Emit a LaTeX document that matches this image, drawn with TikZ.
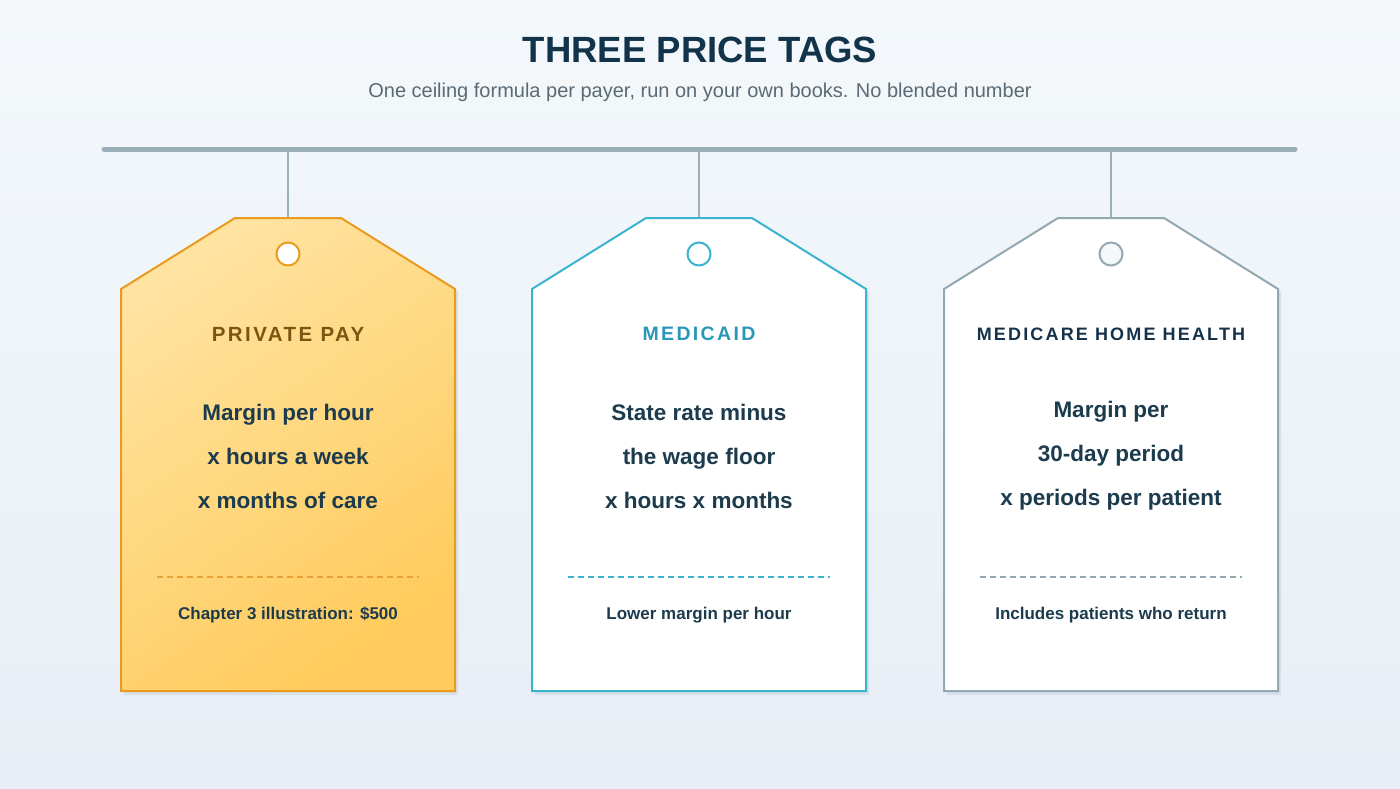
\documentclass[tikz,border=0pt]{standalone}
\usepackage{fontspec}
\setmainfont{Liberation Sans}

\newlength{\du}
\setlength{\du}{1\unitlength}

\definecolor{bgtop}{HTML}{F4F8FB}
\definecolor{bgbot}{HTML}{E7EEF5}
\definecolor{railcolor}{HTML}{9BAFB8}
\definecolor{titlecolor}{HTML}{12344A}
\definecolor{subcolor}{HTML}{5B6A75}
\definecolor{bodycolor}{HTML}{1C3B4D}
\definecolor{shadowcolor}{HTML}{D3DDE5}
\definecolor{privstroke}{HTML}{E99B1F}
\definecolor{privlight}{HTML}{FFE3A0}
\definecolor{privdark}{HTML}{FFCB5C}
\definecolor{privlabel}{HTML}{7D5512}
\definecolor{privdash}{HTML}{E9A23A}
\definecolor{caidstroke}{HTML}{3AB3CF}
\definecolor{caidlabel}{HTML}{2A97B7}
\definecolor{carestroke}{HTML}{93A8B1}
\definecolor{carelabel}{HTML}{15324A}

\tikzset{
  hangline/.style={draw=railcolor, line width=2\du},
  tagedge/.style={line width=2\du, line join=miter},
  tagshadow/.style={fill=shadowcolor, fill opacity=0.8},
  taghole/.style={circle, minimum size=23\du, inner sep=0pt, line width=2\du, fill=white},
  taglabel/.style={font=\fontsize{#1}{24}\selectfont\bfseries\addfontfeature{LetterSpace=12}},
  tagbody/.style={align=center, text=bodycolor, font=\fontsize{22.5}{44}\selectfont\bfseries},
  tagfoot/.style={text=bodycolor, font=\fontsize{17}{20}\selectfont\bfseries},
  tagdash/.style={line width=1.3\du, dash pattern=on 6\du off 4\du}
}

\begin{document}
\begin{tikzpicture}
\pgftransformxscale{1.000000}
\pgftransformyscale{-1.000000}
\useasboundingbox (0\du,0\du) rectangle (1400\du,788\du);
\shade[top color=bgtop, bottom color=bgbot] (0\du,0\du) rectangle (1400\du,788\du);

% heading
\node[text=titlecolor, font=\fontsize{36.5}{40}\selectfont\bfseries] (title) at (700\du,50\du) {THREE PRICE TAGS};
\node[text=subcolor, font=\fontsize{20}{24}\selectfont] (subtitle) at (700\du,92\du) {One ceiling formula per payer, run on your own books. No blended number};

% rail
\coordinate (railW) at (104\du,149\du);
\coordinate (railE) at (1295\du,149\du);
\draw[railcolor, line width=5\du, line cap=round] (railW) -- (railE);

% private pay
\coordinate (railA) at (288\du,149\du);
\coordinate (topA) at (288\du,218\du);
\draw[hangline] (railA) -- (topA);
\fill[tagshadow] (124\du,292\du)--(238\du,221\du)--(344\du,221\du)--(458\du,292\du)--(458\du,695\du)--(124\du,695\du)--cycle;
\shade[shading=axis, top color=privlight, bottom color=privdark, shading angle=35] (121\du,289\du)--(235\du,218\du)--(341\du,218\du)--(455\du,289\du)--(455\du,691\du)--(121\du,691\du)--cycle;
\draw[tagedge, privstroke] (121\du,289\du)--(235\du,218\du)--(341\du,218\du)--(455\du,289\du)--(455\du,691\du)--(121\du,691\du)--cycle;
\node[taghole, draw=privstroke] (holeA) at (288\du,254\du) {};
\node[taglabel=20.5, text=privlabel] (labelA) at (288\du,334\du) {PRIVATE PAY};
\node[tagbody] (bodyA) at (288\du,456\du) {Margin per hour\\x hours a week\\x months of care};
\draw[tagdash, privdash] (157\du,577\du) -- (419\du,577\du);
\node[tagfoot] (footA) at (288\du,615\du) {Chapter 3 illustration: \$500};

% medicaid
\coordinate (railB) at (699\du,149\du);
\coordinate (topB) at (699\du,218\du);
\draw[hangline] (railB) -- (topB);
\fill[tagshadow] (535\du,292\du)--(649\du,221\du)--(755\du,221\du)--(869\du,292\du)--(869\du,695\du)--(535\du,695\du)--cycle;
\filldraw[tagedge, draw=caidstroke, fill=white] (532\du,289\du)--(646\du,218\du)--(752\du,218\du)--(866\du,289\du)--(866\du,691\du)--(532\du,691\du)--cycle;
\node[taghole, draw=caidstroke] (holeB) at (699\du,254\du) {};
\node[taglabel=19.5, text=caidlabel] (labelB) at (699\du,334\du) {MEDICAID};
\node[tagbody] (bodyB) at (699\du,456\du) {State rate minus\\the wage floor\\x hours x months};
\draw[tagdash, caidstroke] (568\du,577\du) -- (830\du,577\du);
\node[tagfoot] (footB) at (699\du,615\du) {Lower margin per hour};

% medicare home health
\coordinate (railC) at (1111\du,149\du);
\coordinate (topC) at (1111\du,218\du);
\draw[hangline] (railC) -- (topC);
\fill[tagshadow] (947\du,292\du)--(1061\du,221\du)--(1167\du,221\du)--(1281\du,292\du)--(1281\du,695\du)--(947\du,695\du)--cycle;
\filldraw[tagedge, draw=carestroke, fill=white] (944\du,289\du)--(1058\du,218\du)--(1164\du,218\du)--(1278\du,289\du)--(1278\du,691\du)--(944\du,691\du)--cycle;
\node[taghole, draw=carestroke, fill=bgtop] (holeC) at (1111\du,254\du) {};
\node[taglabel=18, text=carelabel] (labelC) at (1111\du,334\du) {MEDICARE HOME HEALTH};
\node[tagbody] (bodyC) at (1111\du,456\du) {Margin per\\30-day period\\x periods per patient};
\draw[tagdash, carestroke] (980\du,577\du) -- (1242\du,577\du);
\node[tagfoot] (footC) at (1111\du,615\du) {Includes patients who return};
\end{tikzpicture}
\end{document}
